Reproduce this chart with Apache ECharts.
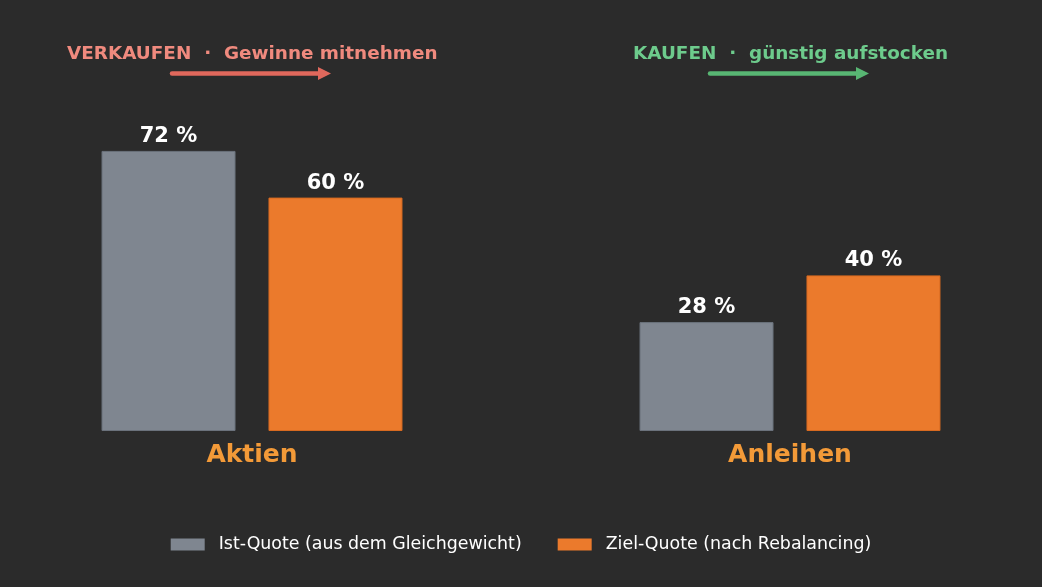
<!DOCTYPE html>
<html><head><meta charset="utf-8">
<script src="https://cdn.jsdelivr.net/npm/echarts@6/dist/echarts.min.js"></script>
<style>html,body{margin:0;padding:0;background:#2b2b2b;}#c{width:1042px;height:587px;}</style>
</head><body><div id="c"></div>
<script>
const categories = ['Aktien', 'Anleihen'];
const istQuote = [72, 28];
const zielQuote = [60, 40];
const seriesNames = ['Ist-Quote (aus dem Gleichgewicht)', 'Ziel-Quote (nach Rebalancing)'];
const annotations = ['VERKAUFEN  ·  Gewinne mitnehmen', 'KAUFEN  ·  günstig aufstocken'];

const chart = echarts.init(document.getElementById('c'));
const font = 'DejaVu Sans';
const idx = categories.map((_, i) => i);
const labelCfg = {show: true, position: 'top', distance: 4, color: '#ffffff', fontFamily: font, fontWeight: 'bold', fontSize: 21, formatter: p => p.value[1] + ' %'};
chart.setOption({
  backgroundColor: '#2b2b2b',
  animation: false,
  grid: {left: 0, right: 0, top: 42, bottom: 156, containLabel: false},
  xAxis: {type: 'value', min: -0.4684, max: 1.4684, splitLine: {show: false}, axisLine: {show: false},
    axisTick: {show: false},
    axisLabel: {customValues: idx, formatter: v => categories[Math.round(v)], color: '#f39a38', fontFamily: font, fontWeight: 'bold', fontSize: 25, margin: 11.5}},
  yAxis: {type: 'value', min: 0, max: 100, show: false, splitLine: {show: false}},
  legend: {bottom: 29, left: 'center', icon: 'rect', itemWidth: 34, itemHeight: 12, itemGap: 36,
    itemStyle: {borderWidth: 0},
    textStyle: {color: '#ffffff', fontFamily: font, fontSize: 17.4, padding: [0, 0, 0, 9]},
    data: seriesNames},
  series: [
    {name: seriesNames[0], type: 'bar', data: idx.map(i => [i, istQuote[i]]), barWidth: 134, barGap: '24.6%',
      itemStyle: {color: '#7f8690', borderColor: '#6b727c', borderWidth: 1}, label: labelCfg},
    {name: seriesNames[1], type: 'bar', data: idx.map(i => [i, zielQuote[i]]), barWidth: 134,
      itemStyle: {color: '#eb7a2c', borderColor: '#d86a20', borderWidth: 1}, label: labelCfg}
  ],
  graphic: [
    {type: 'text', left: 67, top: 45, style: {text: annotations[0], fill: '#f08a7e', font: 'bold 18.4px "DejaVu Sans"'}},
    {type: 'text', left: 633, top: 45, style: {text: annotations[1], fill: '#6dcb8c', font: 'bold 18.4px "DejaVu Sans"'}},
    {type: 'line', shape: {x1: 172, y1: 73.5, x2: 320, y2: 73.5}, style: {stroke: '#e0685c', lineWidth: 4.5, lineCap: 'round'}},
    {type: 'polygon', shape: {points: [[318, 67], [331, 73.5], [318, 80]]}, style: {fill: '#e0685c'}},
    {type: 'line', shape: {x1: 710, y1: 73.5, x2: 858, y2: 73.5}, style: {stroke: '#58b673', lineWidth: 4.5, lineCap: 'round'}},
    {type: 'polygon', shape: {points: [[856, 67], [869, 73.5], [856, 80]]}, style: {fill: '#58b673'}}
  ]
});
</script></body></html>
